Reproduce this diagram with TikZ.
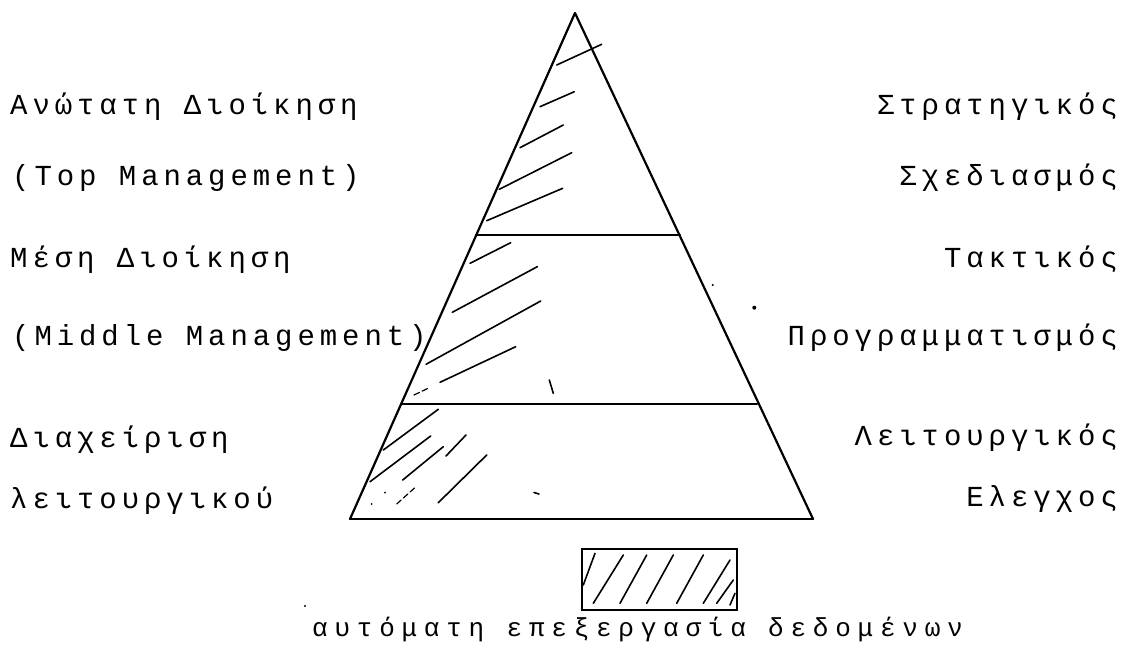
\documentclass[tikz,border=0pt]{standalone}
\usepackage{fontspec}
\newfontfamily\tw[LetterSpace=17]{Liberation Mono}
\newfontfamily\twc[LetterSpace=26]{Liberation Mono}
\begin{document}
\begin{tikzpicture}[x=1pt,y=-1pt,
  lbl/.style={inner sep=0pt,font=\tw\fontsize{29}{33}\selectfont},
  captxt/.style={inner sep=0pt,font=\twc\fontsize{26}{30}\selectfont},
  edge/.style={line width=2.2pt,line cap=round,line join=round},
  hatch/.style={line width=1.6pt,line cap=round},
  thinh/.style={line width=1.2pt,line cap=round,dashed,dash pattern=on 6pt off 3pt}]
\useasboundingbox (0,0) rectangle (1124,648);
% pyramid
\coordinate (apex) at (575,13);
\coordinate (bl) at (350,519);
\coordinate (br) at (813,519);
\coordinate (l1) at (476,235);
\coordinate (r1) at (680,235);
\coordinate (l2) at (401,404);
\coordinate (r2) at (757,404);
\draw[edge] (bl) -- (apex) -- (br);
\draw[edge] (bl) -- (br);
\draw[edge] (l1) -- (r1);
\draw[edge] (l2) -- (r2);
% hatching top
\draw[hatch] (556.7,65) -- (601.7,44.3);
\draw[hatch] (540,106.7) -- (574.3,91.7);
\draw[hatch] (520,147.7) -- (563.3,125);
\draw[hatch] (499.3,189.3) -- (571.7,152.7);
\draw[hatch] (486.7,220.7) -- (562.7,188.3);
% hatching middle
\draw[hatch] (470,263.3) -- (510.7,242.7);
\draw[hatch] (452.3,312.3) -- (537.3,266.7);
\draw[hatch] (426,364.3) -- (540.7,301);
\draw[hatch] (440,382.3) -- (515.7,346.7);
\draw[thinh] (414,395) -- (429.3,387.7);
\draw[hatch] (549.3,380) -- (553.3,393.3);
\fill (712.7,285) circle (1.2pt);
\fill (754.3,307.7) circle (2pt);
% hatching bottom
\draw[hatch] (383.3,450) -- (438.3,409.3);
\draw[hatch] (370,481.7) -- (430.7,436);
\draw[hatch] (402.7,480) -- (443.3,446.7);
\draw[hatch] (446,456) -- (466,435);
\draw[hatch] (438.3,502.7) -- (486.7,455);
\draw[thinh] (396.7,504) -- (416.7,486);
\fill (371.7,504) circle (1pt);
\fill (385,492.7) circle (1pt);
\draw[hatch] (534,492.5) -- (539,494);
% legend box
\node[draw,line width=2.2pt,minimum width=155pt,minimum height=61pt,inner sep=0pt] (leg) at (659.5,579.5) {};
\draw[hatch] (583.3,585) -- (595,553.3);
\draw[hatch] (593.3,603.3) -- (623.3,555);
\draw[hatch] (620,603.3) -- (646.7,555);
\draw[hatch] (646.7,603.3) -- (673.3,555);
\draw[hatch] (676.7,603.3) -- (703.3,555);
\draw[hatch] (703.3,603.3) -- (730,560);
\draw[hatch] (716.7,603.3) -- (733.3,580);
\draw[hatch] (730,605) -- (735,593.3);
\fill (305,606) circle (1.2pt);
\node[captxt,anchor=base west] (capt) at (312,636) {αυτόματη επεξεργασία δεδομένων};
% left labels
\node[lbl,anchor=base west] (a1) at (10,114) {Ανώτατη Διοίκηση};
\node[lbl,anchor=base west] (a2) at (12,185) {(Top Management)};
\node[lbl,anchor=base west] (b1) at (10,267) {Μέση Διοίκηση};
\node[lbl,anchor=base west] (b2) at (12,345) {(Middle Management)};
\node[lbl,anchor=base west] (c1) at (10,447) {Διαχείριση};
\node[lbl,anchor=base west] (c2) at (10,508) {λειτουργικού};
% right labels
\node[lbl,anchor=base east] (d1) at (1118,114) {Στρατηγικός};
\node[lbl,anchor=base east] (d2) at (1118,185) {Σχεδιασμός};
\node[lbl,anchor=base east] (e1) at (1118,267) {Τακτικός};
\node[lbl,anchor=base east] (e2) at (1118,345) {Προγραμματισμός};
\node[lbl,anchor=base east] (f1) at (1118,445) {Λειτουργικός};
\node[lbl,anchor=base east] (f2) at (1118,506) {Ελεγχος};
\end{tikzpicture}
\end{document}
